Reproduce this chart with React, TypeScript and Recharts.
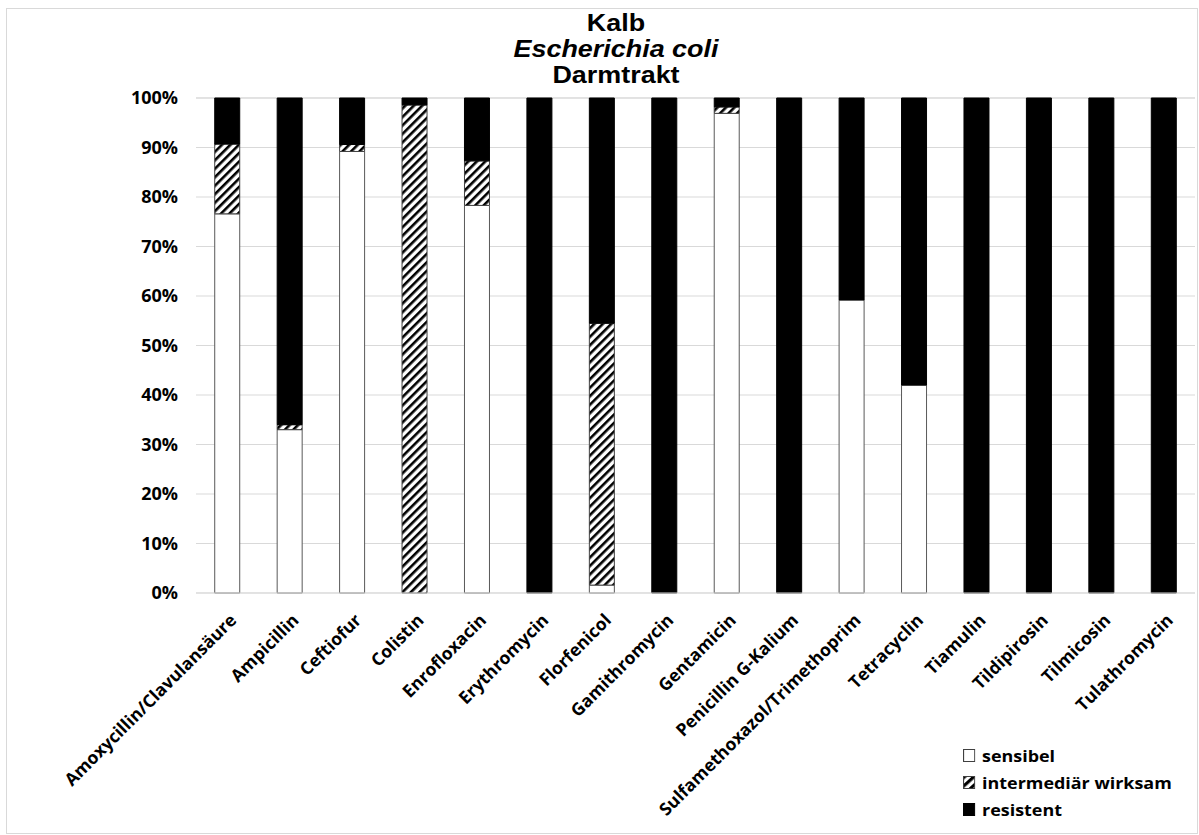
import { Bar, BarChart, CartesianGrid, XAxis, YAxis } from "recharts";

const drugs = [
  "Amoxycillin/Clavulansäure",
  "Ampicillin",
  "Ceftiofur",
  "Colistin",
  "Enrofloxacin",
  "Erythromycin",
  "Florfenicol",
  "Gamithromycin",
  "Gentamicin",
  "Penicillin G-Kalium",
  "Sulfamethoxazol/Trimethoprim",
  "Tetracyclin",
  "Tiamulin",
  "Tildipirosin",
  "Tilmicosin",
  "Tulathromycin",
];

const sensibel = [76.6, 33, 89.2, 0, 78.3, 0, 1.6, 0, 96.9, 0, 59.2, 42, 0, 0, 0, 0];
const intermediaer = [14.1, 1, 1.4, 98.6, 9, 0, 52.9, 0, 1.3, 0, 0, 0, 0, 0, 0, 0];
const resistent = [9.3, 66, 9.4, 1.4, 12.7, 100, 45.5, 100, 1.8, 100, 40.8, 58, 100, 100, 100, 100];

const yTicks = [0, 10, 20, 30, 40, 50, 60, 70, 80, 90, 100];

const data = drugs.map((name, i) => ({
  name,
  sensibel: sensibel[i],
  intermediaer: intermediaer[i],
  resistent: resistent[i],
}));

const labelFont = "'Open Sans', sans-serif";

function DrugTick(props: any) {
  const { x, y, payload } = props;
  return (
    <g transform={`translate(${x + 6},${y + 16}) rotate(-45)`}>
      <text
        x={0}
        y={0}
        dy="0.35em"
        textAnchor="end"
        fontFamily={labelFont}
        fontWeight={700}
        fontSize={17.5}
        fill="#000"
      >
        {payload.value}
      </text>
    </g>
  );
}

function LegendBox({ kind }: { kind: string }) {
  return (
    <svg width={11} height={13} style={{ marginRight: 6 }}>
      <defs>
        <pattern id="hatchIcon" patternUnits="userSpaceOnUse" width={6} height={6} patternTransform="rotate(45)">
          <rect width={6} height={6} fill="#fff" />
          <rect width={3} height={6} fill="#000" />
        </pattern>
      </defs>
      <rect
        x={0.5}
        y={0.5}
        width={10}
        height={12}
        fill={kind === "s" ? "#fff" : kind === "i" ? "url(#hatchIcon)" : "#000"}
        stroke={kind === "r" ? "#000" : "#404040"}
      />
    </svg>
  );
}

const legendItems = [
  { kind: "s", label: "sensibel" },
  { kind: "i", label: "intermediär wirksam" },
  { kind: "r", label: "resistent" },
];

export default function App() {
  return (
    <div style={{ position: "absolute", left: 0, top: 0, width: 1199, height: 835, background: "#fff" }}>
      <div
        style={{
          position: "absolute",
          left: 6,
          top: 8,
          width: 1192,
          height: 826,
          border: "1px solid #d9d9d9",
          boxSizing: "border-box",
        }}
      />
      <div
        style={{
          position: "absolute",
          left: 416,
          top: 10,
          width: 400,
          textAlign: "center",
          fontFamily: "'Liberation Sans', Arial, sans-serif",
          fontWeight: 700,
          fontSize: 23,
          lineHeight: "26px",
          color: "#000",
          transform: "scaleX(1.17)",
        }}
      >
        <div>Kalb</div>
        <div style={{ fontStyle: "italic" }}>Escherichia coli</div>
        <div>Darmtrakt</div>
      </div>
      <div style={{ position: "absolute", left: 0, top: 0 }}>
        <BarChart
          width={1199}
          height={835}
          data={data}
          margin={{ top: 98, right: 4, bottom: 0, left: 6 }}
          barCategoryGap="30%"
        >
          <defs>
            <pattern id="hatch" patternUnits="userSpaceOnUse" width={6} height={6} patternTransform="rotate(45)">
              <rect width={6} height={6} fill="#fff" />
              <rect width={2.6} height={6} fill="#000" />
            </pattern>
          </defs>
          <CartesianGrid stroke="#d9d9d9" vertical={false} />
          <XAxis
            dataKey="name"
            interval={0}
            height={242}
            tick={<DrugTick />}
            tickLine={false}
            axisLine={{ stroke: "#d9d9d9" }}
          />
          <YAxis
            width={190}
            domain={[0, 100]}
            ticks={yTicks}
            tickFormatter={(v: number) => `${v}%`}
            axisLine={false}
            tickLine={false}
            tickSize={0}
            tickMargin={18}
            tick={{ fontFamily: labelFont, fontWeight: 700, fontSize: 18, fill: "#000" }}
          />
          <Bar dataKey="sensibel" stackId="a" fill="#fff" stroke="#595959" strokeWidth={1} isAnimationActive={false} />
          <Bar dataKey="intermediaer" stackId="a" fill="url(#hatch)" stroke="#404040" strokeWidth={1} isAnimationActive={false} />
          <Bar dataKey="resistent" stackId="a" fill="#000" stroke="#000" strokeWidth={1} isAnimationActive={false} />
        </BarChart>
      </div>
      <div
        style={{
          position: "absolute",
          left: 963,
          top: 742,
          fontFamily: labelFont,
          fontWeight: 700,
          fontSize: 16,
          color: "#000",
          transform: "scaleX(1.12)",
          transformOrigin: "0 0",
        }}
      >
        {legendItems.map((it) => (
          <div key={it.kind} style={{ display: "flex", alignItems: "center", height: 27 }}>
            <LegendBox kind={it.kind} />
            <span>{it.label}</span>
          </div>
        ))}
      </div>
    </div>
  );
}
